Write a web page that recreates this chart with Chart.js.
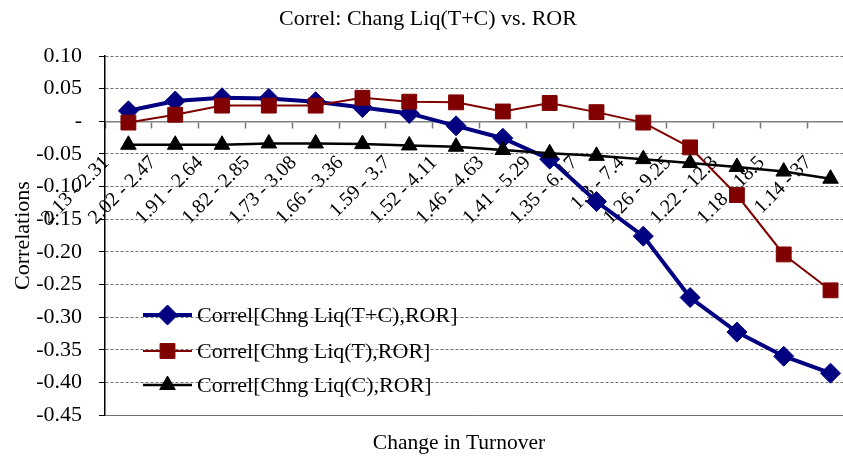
<!DOCTYPE html>
<html>
<head>
<meta charset="utf-8">
<script src="https://cdn.jsdelivr.net/npm/chart.js@4/dist/chart.umd.min.js"></script>
<style>
  html, body { margin: 0; padding: 0; background: #fff; overflow: hidden; }
  #wrap { width: 872px; height: 462px; }
</style>
</head>
<body>
<div id="wrap"><canvas id="c" width="872" height="462"></canvas></div>
<script>
// Turnover-change buckets (low - high)
const categories = ['2.13 - 2.31', '2.02 - 2.47', '1.91 - 2.64', '1.82 - 2.85', '1.73 - 3.08',
  '1.66 - 3.36', '1.59 - 3.7', '1.52 - 4.11', '1.46 - 4.63', '1.41 - 5.29', '1.35 - 6.17',
  '1.3 - 7.4', '1.26 - 9.25', '1.22 - 12.3', '1.18 - 18.5', '1.14 - 37'];

// Correlation of liquidity change with ROR, per bucket
const correlTC = [0.016, 0.031, 0.036, 0.035, 0.030, 0.021, 0.012, -0.007, -0.026, -0.058,
  -0.123, -0.176, -0.270, -0.323, -0.360, -0.386];
const correlT = [-0.002, 0.010, 0.024, 0.024, 0.024, 0.036, 0.030, 0.029, 0.015, 0.028,
  0.014, -0.002, -0.040, -0.113, -0.204, -0.259];
const correlC = [-0.036, -0.036, -0.036, -0.034, -0.034, -0.035, -0.037, -0.039, -0.044, -0.049,
  -0.053, -0.058, -0.064, -0.070, -0.077, -0.088];

const seriesNames = ['Correl[Chng Liq(T+C),ROR]', 'Correl[Chng Liq(T),ROR]', 'Correl[Chng Liq(C),ROR]'];

// y-axis range and tick spacing
const yMin = -0.45, yMax = 0.10, yStep = 0.05;

const FONT = 'Liberation Serif, Times New Roman, serif';

// Legend box inside the plot, plus the horizontal axis caption
const legendAndCaption = {
  id: 'legendAndCaption',
  afterDraw(chart) {
    const ctx = chart.ctx;
    ctx.save();
    const rows = [315, 351, 385];
    chart.data.datasets.forEach((ds, i) => {
      const y = rows[i];
      ctx.strokeStyle = ds.borderColor;
      ctx.lineWidth = ds.borderWidth;
      ctx.beginPath();
      ctx.moveTo(143, y);
      ctx.lineTo(192, y);
      ctx.stroke();
      ctx.fillStyle = ds.backgroundColor;
      ctx.strokeStyle = ds.borderColor;
      ctx.lineWidth = 1;
      Chart.helpers.drawPoint(ctx, { pointStyle: ds.pointStyle, radius: ds.pointRadius, borderWidth: 1, rotation: 0 }, 167.5, y);
      ctx.fillStyle = '#000';
      ctx.font = '22px ' + FONT;
      ctx.textAlign = 'left';
      ctx.textBaseline = 'middle';
      ctx.fillText(ds.label, 197, y + 1);
    });
    ctx.font = '21.5px ' + FONT;
    ctx.fillStyle = '#000';
    ctx.textAlign = 'center';
    ctx.textBaseline = 'middle';
    ctx.fillText('Change in Turnover', 459, 443);
    ctx.restore();
  }
};

new Chart(document.getElementById('c'), {
  type: 'line',
  data: {
    labels: categories,
    datasets: [
      { label: seriesNames[0], data: correlTC, borderColor: '#000080', backgroundColor: '#000080',
        borderWidth: 4, pointStyle: 'rectRot', pointRadius: 10, pointBorderWidth: 1, order: 3 },
      { label: seriesNames[1], data: correlT, borderColor: '#800000', backgroundColor: '#800000',
        borderWidth: 2, pointStyle: 'rect', pointRadius: 10.5, pointBorderWidth: 1, order: 2 },
      { label: seriesNames[2], data: correlC, borderColor: '#000000', backgroundColor: '#000000',
        borderWidth: 2.5, pointStyle: 'triangle', pointRadius: 9, pointBorderWidth: 1, order: 1 }
    ]
  },
  options: {
    responsive: false,
    animation: false,
    layout: { padding: { left: 0, right: 16, top: 0, bottom: 47 } },
    elements: { line: { tension: 0 } },
    plugins: {
      legend: { display: false },
      tooltip: { enabled: false },
      title: {
        display: true,
        text: 'Correl: Chang Liq(T+C) vs. ROR',
        color: '#000',
        font: { family: FONT, size: 22, weight: 'normal' },
        padding: { top: 6, bottom: 23.6 }
      }
    },
    scales: {
      x: {
        type: 'category',
        position: { y: 0 },
        offset: true,
        grid: { display: true, drawOnChartArea: false, offset: true, tickLength: 6, tickColor: '#777', tickWidth: 1.5 },
        border: { display: true, color: '#808080', width: 1.5 },
        ticks: {
          autoSkip: false, maxRotation: 45, minRotation: 45, padding: 24, labelOffset: -22,
          color: '#000', font: { family: FONT, size: 20 }
        }
      },
      y: {
        min: yMin, max: yMax,
        afterFit(scale) { scale.width = 105; },
        ticks: {
          stepSize: yStep, padding: 17, color: '#000',
          font: { family: FONT, size: 22 },
          callback: v => (Math.abs(v) < 1e-9 ? '-' : v.toFixed(2))
        },
        grid: { color: '#707070', lineWidth: 1, tickLength: 6, tickColor: '#000', tickWidth: 1 },
        border: { display: true, color: '#000', width: 1.5,
          dash: c => (c.tick && c.tick.value < yMin + 1e-9 ? [] : [3, 2]) },
        title: {
          display: true, text: 'Correlations', color: '#000',
          font: { family: FONT, size: 22 }, padding: { top: 10, bottom: 0 }
        }
      }
    }
  },
  plugins: [legendAndCaption]
});
</script>
</body>
</html>
